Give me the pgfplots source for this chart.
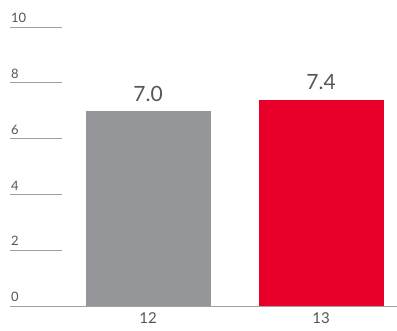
\documentclass[border=0pt]{standalone}
\usepackage{pgfplots}
\pgfplotsset{compat=1.18}
\usepackage{fontspec}
\setmainfont{Lato}
\definecolor{barGray}{RGB}{148,150,153}
\definecolor{barRed}{RGB}{232,0,43}
\definecolor{txt}{RGB}{85,85,85}
\definecolor{gridc}{RGB}{160,160,160}
\begin{document}
\begin{tikzpicture}
\path[use as bounding box] (-10pt,-25pt) rectangle (387pt,306pt);
\begin{axis}[
  scale only axis,
  width=387pt, height=279pt,
  /pgf/number format/assume math mode=true,
  xmin=-0.798, xmax=1.439,
  ymin=0, ymax=10,
  axis x line*=bottom,
  axis y line*=left,
  y axis line style={draw=none},
  x axis line style={draw=gridc, line width=0.8pt},
  xtick={0,1}, xticklabels={12,13},
  xtick style={draw=none},
  xticklabel style={font=\fontsize{15}{15}\selectfont, text=txt, yshift=-3pt},
  ytick={0,2,4,6,8,10},
  ytick align=inside,
  major tick length=52pt,
  ytick style={draw=gridc, line width=0.8pt},
  yticklabel style={anchor=south west, inner sep=0pt, xshift=1pt, yshift=4pt, font=\fontsize{13}{13}\selectfont, text=txt},
  clip=false,
]
\addplot[ybar, bar width=125pt, fill=barGray, draw=none,
  nodes near coords, nodes near coords style={font=\fontsize{21}{21}\selectfont, text=txt, anchor=south, yshift=6pt},
  point meta=explicit symbolic] coordinates {(0,7.0) [7.0]};
\addplot[ybar, bar width=125pt, fill=barRed, draw=none,
  nodes near coords, nodes near coords style={font=\fontsize{21}{21}\selectfont, text=txt, anchor=south, yshift=6pt},
  point meta=explicit symbolic] coordinates {(1,7.4) [7.4]};
\end{axis}
\end{tikzpicture}
\end{document}
